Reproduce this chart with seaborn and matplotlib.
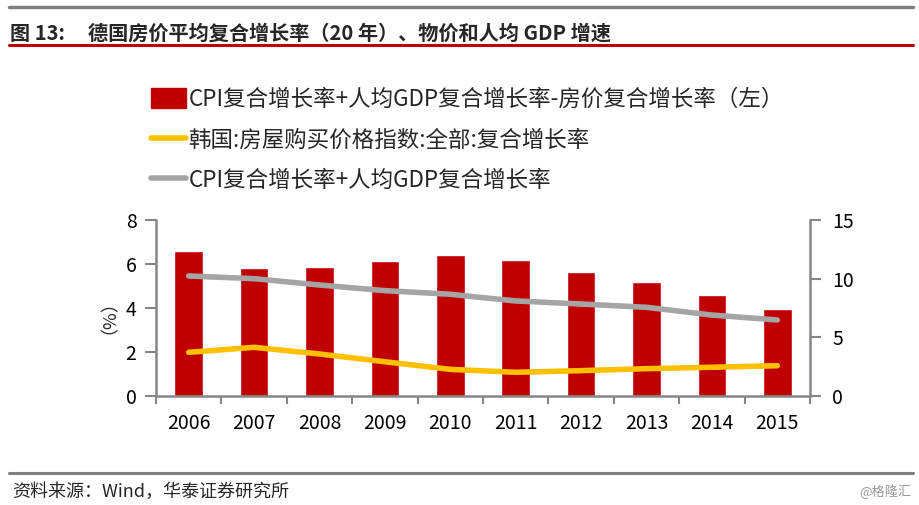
import numpy as np
import pandas as pd
import matplotlib
matplotlib.use("Agg")
import matplotlib.pyplot as plt
import seaborn as sns
from matplotlib.patches import Patch
from matplotlib.lines import Line2D

years = ["2006", "2007", "2008", "2009", "2010", "2011", "2012", "2013", "2014", "2015"]
bar_vals = [6.59, 5.82, 5.86, 6.14, 6.41, 6.18, 5.64, 5.18, 4.59, 3.95]
korea_vals = [3.72, 4.15, 3.58, 2.92, 2.27, 2.02, 2.16, 2.33, 2.45, 2.58]
cpi_gdp_vals = [10.23, 10.0, 9.46, 8.98, 8.67, 8.1, 7.84, 7.56, 6.9, 6.48]

label_bar = "CPI复合增长率+人均GDP复合增长率-房价复合增长率（左）"
label_korea = "韩国:房屋购买价格指数:全部:复合增长率"
label_gray = "CPI复合增长率+人均GDP复合增长率"
title = "图 13:     德国房价平均复合增长率（20 年）、物价和人均 GDP 增速"
source = "资料来源：Wind，华泰证券研究所"

sns.set_theme(style="white")
plt.rcParams['font.family'] = ['Noto Sans CJK SC', 'DejaVu Sans']
plt.rcParams['axes.unicode_minus'] = False

RED = "#C00000"
YEL = "#FFC000"
GRAY = "#A5A5A5"
SPINE = "#868686"

fig = plt.figure(figsize=(9.19, 5.05), dpi=100)
ax = fig.add_axes([156/919, 1-396/505, (810-156)/919, (396-220)/505])

df = pd.DataFrame({"year": years, "bar": bar_vals})
sns.barplot(data=df, x="year", y="bar", color=RED, saturation=1, width=0.44, ax=ax)
ax.set_xlim(-0.5, len(years)-0.5)
ax.set_ylim(0, 8)
ax.set_yticks([0, 2, 4, 6, 8])
ax.set_xlabel("")
ax.set_ylabel("（%）", fontsize=13, labelpad=12)

ax2 = ax.twinx()
pos = np.arange(len(years))
sns.lineplot(x=pos, y=cpi_gdp_vals, color=GRAY, linewidth=4, ax=ax2, solid_capstyle="round")
sns.lineplot(x=pos, y=korea_vals, color=YEL, linewidth=4, ax=ax2, solid_capstyle="round")
ax2.set_ylim(0, 15)
ax2.set_yticks([0, 5, 10, 15])
ax2.set_xlim(-0.5, len(years)-0.5)

# x ticks at category boundaries, labels at centers
ax.set_xticks(np.arange(-0.5, len(years), 1.0), minor=False)
ax.set_xticklabels([""] * (len(years)+1))
ax.set_xticks(pos, minor=True)
ax.set_xticklabels(years, minor=True)
ax.tick_params(axis="x", which="major", length=6, width=1.5, color=SPINE, direction="out", bottom=True)
ax.tick_params(axis="x", which="minor", length=0, pad=12, labelsize=14, labelcolor="black")
ax.tick_params(axis="y", length=8, width=1.5, color=SPINE, direction="out", left=True, labelsize=14, labelcolor="black", pad=6)
ax2.tick_params(axis="y", length=8, width=1.5, color=SPINE, direction="out", right=True, labelsize=14, labelcolor="black", pad=8)

for a in (ax, ax2):
    for s in a.spines.values():
        s.set_visible(False)
ax.spines["left"].set_visible(True)
ax.spines["bottom"].set_visible(True)
ax2.spines["right"].set_visible(True)
ax.spines["left"].set_color(SPINE)
ax.spines["bottom"].set_color(SPINE)
ax2.spines["right"].set_color(SPINE)
for s in (ax.spines["left"], ax.spines["bottom"], ax2.spines["right"]):
    s.set_linewidth(1.8)
ax.grid(False)
ax2.grid(False)

handles = [Patch(facecolor=RED, edgecolor=RED),
           Line2D([0], [0], color=YEL, lw=4),
           Line2D([0], [0], color=GRAY, lw=4)]
fig.legend(handles, [label_bar, label_korea, label_gray], loc="upper left",
           bbox_to_anchor=(142/919, 1-79/505), frameon=False, fontsize=16.2,
           handlelength=1.55, handleheight=1.0, handletextpad=0.12, labelspacing=0.78,
           borderaxespad=0)

# header / footer decorations
fig.add_artist(Line2D([0.01, 0.993], [1-7/505, 1-7/505], color="#7F7F7F", lw=2.5))
fig.add_artist(Line2D([0.01, 0.993], [1-45/505, 1-45/505], color=RED, lw=2.2))
fig.add_artist(Line2D([0.01, 0.993], [1-473/505, 1-473/505], color="#7F7F7F", lw=2.2))
fig.text(10/919, 1-33/505, title, fontsize=14.5, fontweight="bold", va="center", ha="left")
fig.text(12/919, 1-492/505, source, fontsize=13, style="italic", va="center", ha="left")
fig.text(912/919, 1-492/505, "@格隆汇", fontsize=9.5, color="#999999", va="center", ha="right")

fig.savefig("out.png", dpi=100)
